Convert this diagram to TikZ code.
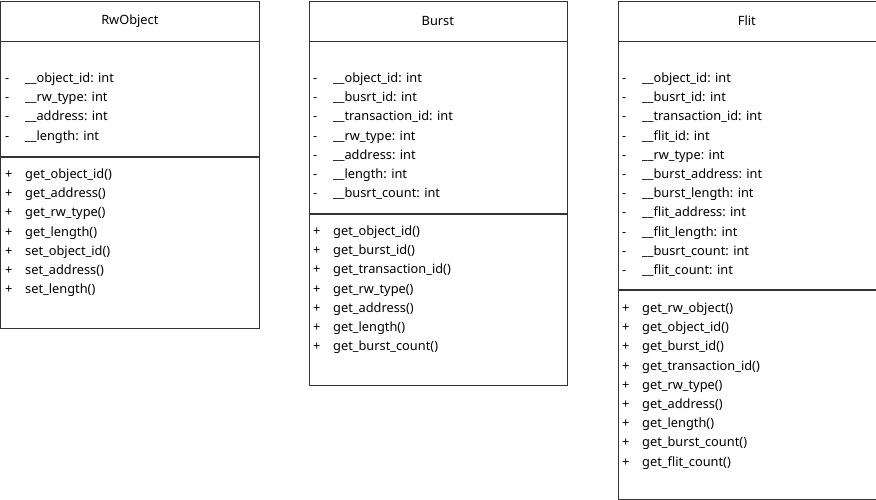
\documentclass[tikz,border=0pt]{standalone}
\usepackage{fontspec}
\setmainfont{Noto Sans}
\tikzset{
  classbox/.style={draw=black!80, line width=0.7pt, anchor=north west, inner sep=0pt,
    minimum width=258pt, font=\fontsize{12.8}{15}\selectfont},
  member/.style={anchor=west, inner sep=0pt, text height=9pt, text depth=3pt, yshift=-1.5pt,
    font=\fontsize{12.8}{15}\selectfont},
}
\newcommand{\priv}[1]{\makebox[20pt][l]{-}\_\_#1}
\newcommand{\pub}[1]{\makebox[20pt][l]{+}#1}
\begin{document}
\begin{tikzpicture}[x=1pt, y=-1pt]
\useasboundingbox (0,0) rectangle (876,499);
% RwObject
\node[classbox, minimum height=40pt](rwtitle) at (0.5,0.5) {RwObject};
\node[classbox, minimum height=115pt](rwattr) at (rwtitle.south west) {};
\node[classbox, minimum height=171pt](rwfunc) at (rwattr.south west) {};
\node[member](rwa1) at (5, 78) {\priv{object\_id: int}};
\node[member](rwa2) at (5, 97.2) {\priv{rw\_type: int}};
\node[member](rwa3) at (5, 116.4) {\priv{address: int}};
\node[member](rwa4) at (5, 135.6) {\priv{length: int}};
\node[member](rwf1) at (5, 174) {\pub{get\_object\_id()}};
\node[member](rwf2) at (5, 193.2) {\pub{get\_address()}};
\node[member](rwf3) at (5, 212.4) {\pub{get\_rw\_type()}};
\node[member](rwf4) at (5, 231.6) {\pub{get\_length()}};
\node[member](rwf5) at (5, 250.8) {\pub{set\_object\_id()}};
\node[member](rwf6) at (5, 270) {\pub{set\_address()}};
\node[member](rwf7) at (5, 289.2) {\pub{set\_length()}};
% Burst
\node[classbox, minimum height=40pt](bttitle) at (308.5,0.5) {Burst};
\node[classbox, minimum height=172pt](btattr) at (bttitle.south west) {};
\node[classbox, minimum height=171pt](btfunc) at (btattr.south west) {};
\node[member](bta1) at (313, 78) {\priv{object\_id: int}};
\node[member](bta2) at (313, 97.2) {\priv{busrt\_id: int}};
\node[member](bta3) at (313, 116.4) {\priv{transaction\_id: int}};
\node[member](bta4) at (313, 135.6) {\priv{rw\_type: int}};
\node[member](bta5) at (313, 154.8) {\priv{address: int}};
\node[member](bta6) at (313, 174) {\priv{length: int}};
\node[member](bta7) at (313, 193.2) {\priv{busrt\_count: int}};
\node[member](btf1) at (313, 231) {\pub{get\_object\_id()}};
\node[member](btf2) at (313, 250.2) {\pub{get\_burst\_id()}};
\node[member](btf3) at (313, 269.4) {\pub{get\_transaction\_id()}};
\node[member](btf4) at (313, 288.6) {\pub{get\_rw\_type()}};
\node[member](btf5) at (313, 307.8) {\pub{get\_address()}};
\node[member](btf6) at (313, 327) {\pub{get\_length()}};
\node[member](btf7) at (313, 346.2) {\pub{get\_burst\_count()}};
% Flit
\node[classbox, minimum height=40pt](fltitle) at (617.5,0.5) {Flit};
\node[classbox, minimum height=248pt](flattr) at (fltitle.south west) {};
\node[classbox, minimum height=209pt](flfunc) at (flattr.south west) {};
\node[member](fla1) at (622, 78) {\priv{object\_id: int}};
\node[member](fla2) at (622, 97.2) {\priv{busrt\_id: int}};
\node[member](fla3) at (622, 116.4) {\priv{transaction\_id: int}};
\node[member](fla4) at (622, 135.6) {\priv{flit\_id: int}};
\node[member](fla5) at (622, 154.8) {\priv{rw\_type: int}};
\node[member](fla6) at (622, 174) {\priv{burst\_address: int}};
\node[member](fla7) at (622, 193.2) {\priv{burst\_length: int}};
\node[member](fla8) at (622, 212.4) {\priv{flit\_address: int}};
\node[member](fla9) at (622, 231.6) {\priv{flit\_length: int}};
\node[member](fla10) at (622, 250.8) {\priv{busrt\_count: int}};
\node[member](fla11) at (622, 270) {\priv{flit\_count: int}};
\node[member](flf1) at (622, 308) {\pub{get\_rw\_object()}};
\node[member](flf2) at (622, 327.2) {\pub{get\_object\_id()}};
\node[member](flf3) at (622, 346.4) {\pub{get\_burst\_id()}};
\node[member](flf4) at (622, 365.6) {\pub{get\_transaction\_id()}};
\node[member](flf5) at (622, 384.8) {\pub{get\_rw\_type()}};
\node[member](flf6) at (622, 404) {\pub{get\_address()}};
\node[member](flf7) at (622, 423.2) {\pub{get\_length()}};
\node[member](flf8) at (622, 442.4) {\pub{get\_burst\_count()}};
\node[member](flf9) at (622, 461.6) {\pub{get\_flit\_count()}};
\end{tikzpicture}
\end{document}
